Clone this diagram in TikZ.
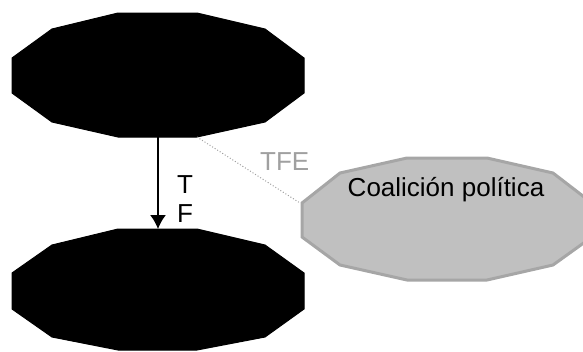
\documentclass[tikz,border=0pt]{standalone}
\usetikzlibrary{arrows.meta}
\usepackage{fontspec}
\setmainfont{Liberation Sans}
\definecolor{shgray}{HTML}{C0C0C0}
\definecolor{edgegray}{HTML}{A6A6A6}
\definecolor{lblgray}{HTML}{A0A0A0}
\begin{document}
\begin{tikzpicture}[x=1pt,y=-1pt,
  blackpoly/.style={fill=black,draw=black,line width=1pt},
  graypoly/.style={fill=shgray,draw=edgegray,line width=3pt,line join=miter},
  lbl/.style={font=\fontsize{26}{30}\selectfont,inner sep=0pt}]
\useasboundingbox (0,0) rectangle (583,351);
% top black dodecagon
\draw[blackpoly] (118,13) -- (197,13) -- (265,29) -- (304,58) -- (304,93) -- (265,122)
  -- (197,137) -- (118,137) -- (52,122) -- (12,93) -- (12,58) -- (52,29) -- cycle;
\coordinate (topS) at (158,137);
\coordinate (topR) at (197,137);
% bottom black dodecagon
\draw[blackpoly] (118,229) -- (197,229) -- (265,245) -- (304,273) -- (304,309) -- (265,337)
  -- (197,350) -- (118,350) -- (52,337) -- (12,309) -- (12,273) -- (52,245) -- cycle;
\coordinate (botN) at (158,229);
% gray dodecagon
\draw[graypoly] (407,158) -- (487,158) -- (553,173) -- (592,203) -- (592,237) -- (553,265)
  -- (487,280) -- (407,280) -- (340,265) -- (302,237) -- (302,203) -- (340,173) -- cycle;
\coordinate (grayW) at (300,203);
\node[lbl,anchor=base] (coal) at (446,196) {Coalición política};
% arrow
\draw[line width=1.6pt,-{Latex[length=14pt,width=16pt]}] (topS) -- (botN);
\node[lbl,anchor=base west] (lT) at (177,193) {T};
\node[lbl,anchor=base west] (lF) at (177,222) {F};
% dotted connector
\draw[lblgray,dotted,line width=1pt] (topR) -- (grayW);
\node[lbl,text=lblgray,anchor=base west] (tfe) at (260,170) {TFE};
\end{tikzpicture}
\end{document}
